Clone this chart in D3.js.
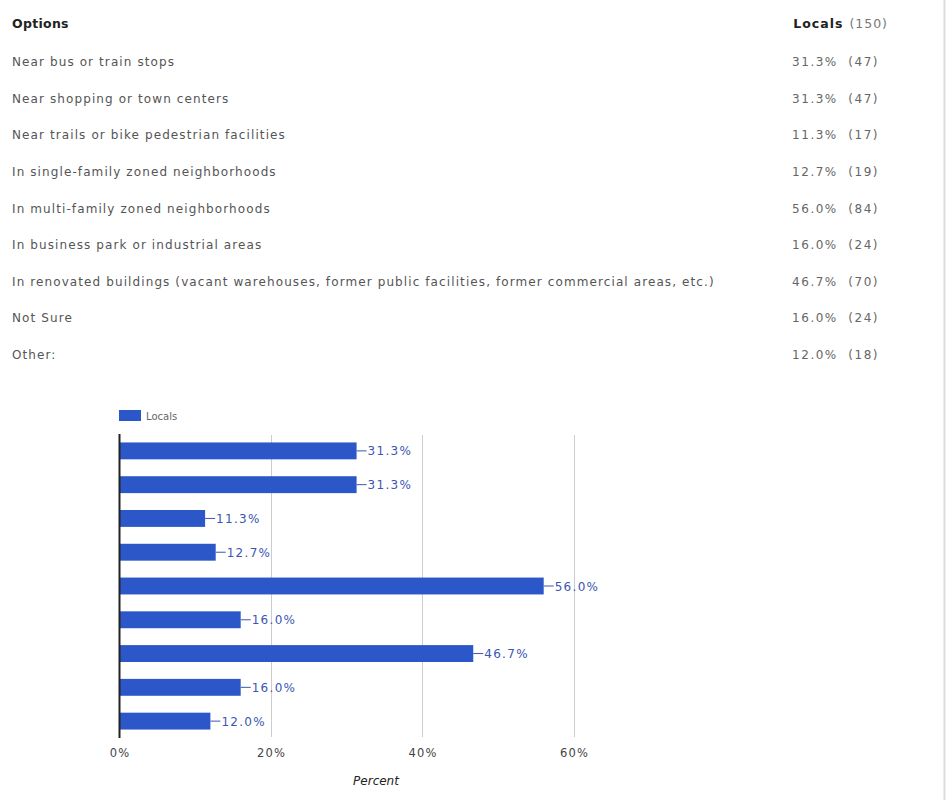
<!DOCTYPE html>
<html>
<head>
<meta charset="utf-8">
<script src="https://cdn.jsdelivr.net/npm/d3@7"></script>
<style>
  html, body { margin: 0; padding: 0; background: #fff; }
  svg { display: block; }
</style>
</head>
<body>
<svg id="chart" width="948" height="803"></svg>
<script>
// Survey responses: where should new housing be located?
const options = [
  "Near bus or train stops",
  "Near shopping or town centers",
  "Near trails or bike pedestrian facilities",
  "In single-family zoned neighborhoods",
  "In multi-family zoned neighborhoods",
  "In business park or industrial areas",
  "In renovated buildings (vacant warehouses, former public facilities, former commercial areas, etc.)",
  "Not Sure",
  "Other:"
];
const percents = [31.3, 31.3, 11.3, 12.7, 56.0, 16.0, 46.7, 16.0, 12.0];
const counts = [47, 47, 17, 19, 84, 24, 70, 24, 18];
const seriesName = "Locals";
const respondents = 150;
const xTicks = [0, 20, 40, 60];

const svg = d3.select("#chart");
const font = "'DejaVu Sans', sans-serif";

// page frame edge on the right
svg.append("line")
  .attr("x1", 944.5).attr("x2", 944.5).attr("y1", 0).attr("y2", 800)
  .attr("stroke", "#dcdcdc").attr("stroke-width", 2);

// ---- results table ----
const table = svg.append("g");
const rowY = d3.scalePoint().domain(d3.range(options.length)).range([62, 355]);

table.append("text")
  .attr("x", 12).attr("y", 28)
  .attr("font-family", font).attr("font-size", 12.5).attr("font-weight", "bold")
  .attr("letter-spacing", 0.3)
  .attr("fill", "#222").text("Options");

const head = table.append("text")
  .attr("x", 888).attr("y", 28).attr("text-anchor", "end")
  .attr("font-family", font).attr("font-size", 12.5)
  .attr("letter-spacing", 1);
head.append("tspan").attr("font-weight", "bold").attr("fill", "#222").text(seriesName);
head.append("tspan").attr("fill", "#777").attr("dx", 6).text(`(${respondents})`);

table.selectAll("text.opt")
  .data(options)
  .join("text")
  .attr("class", "opt")
  .attr("x", 12)
  .attr("y", (d, i) => rowY(i) + 4)
  .attr("font-family", font).attr("font-size", 12)
  .attr("letter-spacing", 1.1)
  .attr("fill", "#555")
  .text(d => d);

table.selectAll("text.val")
  .data(percents)
  .join("text")
  .attr("class", "val")
  .attr("x", 879)
  .attr("y", (d, i) => rowY(i) + 4)
  .attr("text-anchor", "end")
  .attr("font-family", font).attr("font-size", 12)
  .attr("letter-spacing", 1.5)
  .attr("fill", "#666")
  .attr("xml:space", "preserve")
  .text((d, i) => `${d.toFixed(1)}%  (${counts[i]})`);

// ---- bar chart ----
const barColor = "#2c57c9";
const labelColor = "#3a56b2";
const x = d3.scaleLinear().domain([0, 60]).range([119.5, 574]);
const y = d3.scaleBand().domain(d3.range(options.length)).range([434, 738]).paddingInner(0.5).paddingOuter(0.25);

const plot = svg.append("g");

// gridlines
plot.selectAll("line.grid")
  .data(xTicks.filter(t => t > 0))
  .join("line")
  .attr("class", "grid")
  .attr("x1", d => Math.round(x(d)) + 0.5).attr("x2", d => Math.round(x(d)) + 0.5)
  .attr("y1", 435).attr("y2", 737)
  .attr("stroke", "#cccccc");

// bars
plot.selectAll("rect.bar")
  .data(percents)
  .join("rect")
  .attr("class", "bar")
  .attr("x", x(0))
  .attr("y", (d, i) => y(i))
  .attr("width", d => x(d) - x(0))
  .attr("height", y.bandwidth())
  .attr("fill", barColor);

// value labels with short leader lines
plot.selectAll("line.lead")
  .data(percents)
  .join("line")
  .attr("class", "lead")
  .attr("x1", d => x(d)).attr("x2", d => x(d) + 10)
  .attr("y1", (d, i) => y(i) + y.bandwidth() / 2)
  .attr("y2", (d, i) => y(i) + y.bandwidth() / 2)
  .attr("stroke", labelColor).attr("stroke-width", 1);

plot.selectAll("text.lbl")
  .data(percents)
  .join("text")
  .attr("class", "lbl")
  .attr("x", d => x(d) + 11)
  .attr("y", (d, i) => y(i) + y.bandwidth() / 2 + 4.5)
  .attr("font-family", font).attr("font-size", 12)
  .attr("letter-spacing", 1.3)
  .attr("fill", labelColor)
  .text(d => `${d.toFixed(1)}%`);

// baseline
plot.append("line")
  .attr("x1", 119.5).attr("x2", 119.5).attr("y1", 434).attr("y2", 738)
  .attr("stroke", "#222").attr("stroke-width", 2);

// x axis tick labels
const axis = d3.axisBottom(x).tickValues(xTicks).tickSize(0).tickFormat(d => `${d}%`);
const axG = svg.append("g").attr("transform", "translate(0,746)").call(axis);
axG.select(".domain").remove();
axG.selectAll("text")
  .attr("font-family", font).attr("font-size", 11.5)
  .attr("letter-spacing", 1.2)
  .attr("fill", "#444");

svg.append("text")
  .attr("x", 376).attr("y", 785).attr("text-anchor", "middle")
  .attr("font-family", font).attr("font-size", 12).attr("font-style", "italic")
  .attr("fill", "#222").text("Percent");

// legend
const legend = svg.append("g");
legend.append("rect")
  .attr("x", 119).attr("y", 410).attr("width", 22).attr("height", 11)
  .attr("fill", barColor);
legend.append("text")
  .attr("x", 146).attr("y", 419.5)
  .attr("font-family", font).attr("font-size", 10)
  .attr("fill", "#666").text(seriesName);
</script>
</body>
</html>
